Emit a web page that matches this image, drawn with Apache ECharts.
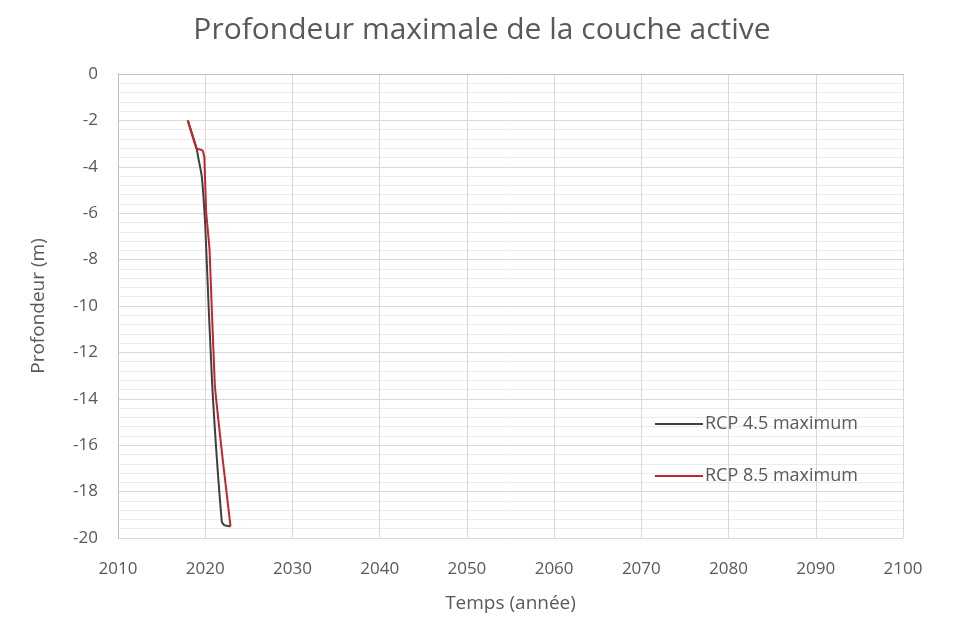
<!DOCTYPE html>
<html>
<head>
<meta charset="utf-8">
<script src="https://cdn.jsdelivr.net/npm/echarts@6/dist/echarts.min.js"></script>
<style>
  html, body { margin: 0; padding: 0; background: #fff; }
  #chart { width: 964px; height: 627px; }
</style>
</head>
<body>
<div id="chart"></div>
<script>
var years45 = [2018, 2019, 2019.2, 2019.6, 2019.8, 2020.0, 2020.1, 2020.8, 2021.9, 2022.2, 2022.9];
var depth45 = [-2, -3.2, -3.6, -4.4, -5.3, -6.5, -7.4, -13.4, -19.3, -19.45, -19.5];
var years85 = [2018, 2019, 2019.7, 2019.9, 2020.1, 2020.5, 2021.1, 2022.0, 2022.9];
var depth85 = [-2, -3.2, -3.3, -3.6, -5.9, -7.6, -13.4, -16.6, -19.5];
var seriesNames = ['RCP 4.5 maximum', 'RCP 8.5 maximum'];

function pairs(xs, ys) {
  var out = [];
  for (var i = 0; i < xs.length; i++) out.push([xs[i], ys[i]]);
  return out;
}

var font = 'Open Sans';
echarts.init(document.querySelector('#chart')).setOption({
  animation: false,
  title: {
    text: 'Profondeur maximale de la couche active',
    left: 'center',
    top: 10,
    textStyle: { fontFamily: font, fontSize: 30, fontWeight: 'normal', color: '#595959' }
  },
  legend: {
    orient: 'vertical',
    left: 650,
    top: 410,
    itemGap: 34,
    itemWidth: 48,
    itemHeight: 2,
    icon: 'rect',
    textStyle: { fontFamily: font, fontSize: 18, color: '#595959', padding: [0, 0, 0, -3] },
    data: seriesNames
  },
  grid: { left: 118, right: 61, top: 74, bottom: 89 },
  xAxis: {
    type: 'value',
    min: 2010,
    max: 2100,
    interval: 10,
    name: 'Temps (année)',
    nameLocation: 'middle',
    nameGap: 56,
    nameTextStyle: { fontFamily: font, fontSize: 19, color: '#595959' },
    axisLine: { lineStyle: { color: '#bfbfbf' } },
    axisTick: { show: false },
    axisLabel: { fontFamily: font, fontSize: 17, color: '#595959', margin: 23, formatter: function (v) { return String(v); } },
    splitLine: { lineStyle: { color: '#d9d9d9' } }
  },
  yAxis: {
    type: 'value',
    min: -20,
    max: 0,
    interval: 2,
    name: 'Profondeur (m)',
    nameLocation: 'middle',
    nameGap: 70,
    nameTextStyle: { fontFamily: font, fontSize: 19, color: '#595959' },
    axisLine: { show: true, lineStyle: { color: '#bfbfbf' } },
    axisTick: { show: false },
    axisLabel: { fontFamily: font, fontSize: 17, color: '#595959', margin: 20 },
    splitLine: { lineStyle: { color: '#d9d9d9' } },
    minorTick: { show: false, splitNumber: 5 },
    minorSplitLine: { show: true, lineStyle: { color: '#ececec' } }
  },
  series: [
    {
      name: seriesNames[0],
      type: 'line',
      showSymbol: false,
      smooth: 0.2,
      color: '#404040',
      lineStyle: { width: 2 },
      data: pairs(years45, depth45)
    },
    {
      name: seriesNames[1],
      type: 'line',
      showSymbol: false,
      smooth: 0.1,
      color: '#c0272d',
      lineStyle: { width: 2 },
      data: pairs(years85, depth85)
    }
  ]
});
</script>
</body>
</html>
